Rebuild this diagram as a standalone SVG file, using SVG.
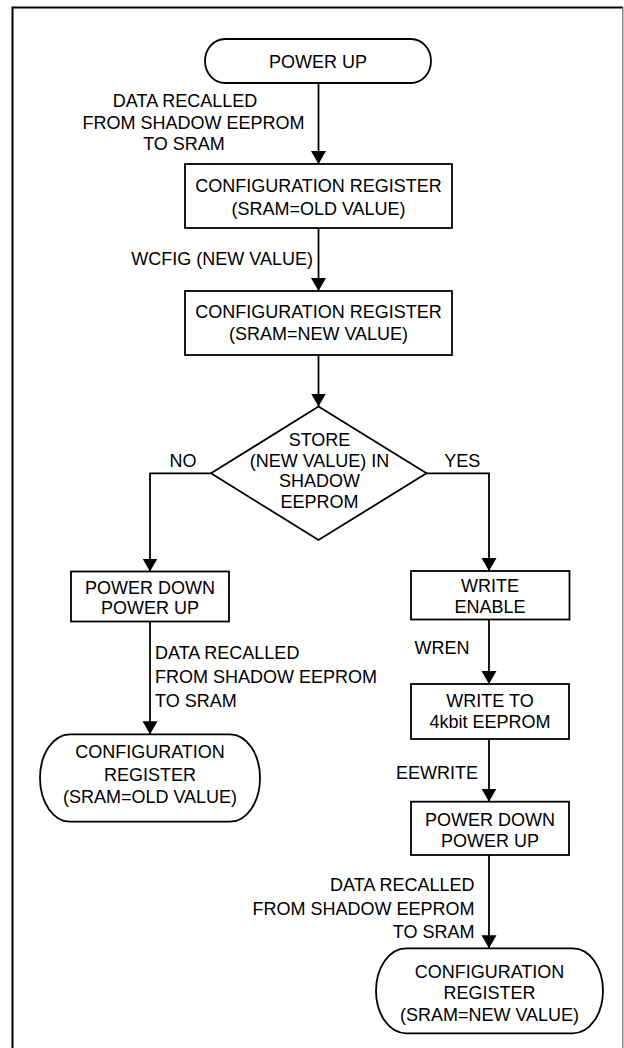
<svg xmlns="http://www.w3.org/2000/svg" width="624" height="1048" viewBox="0 0 624 1048">
<style>
  .shape{fill:#fff;stroke:#000;stroke-width:1.8}
  .wire{fill:none;stroke:#000;stroke-width:1.8}
  text{font-family:"Liberation Sans",Arial,Helvetica,sans-serif;font-size:18px;fill:#000}
  .c{text-anchor:middle}
  .e{text-anchor:end}
</style>
<defs>
  <marker id="arr" markerUnits="userSpaceOnUse" markerWidth="14" markerHeight="16" refX="13" refY="7.5" orient="auto">
    <path d="M0,0 L13,7.5 L0,15 Z" fill="#000"/>
  </marker>
</defs>
<rect width="624" height="1048" fill="#fff"/>
<g id="frame">
  <path d="M12.5,1050 V7.5 H623" fill="none" stroke="#000" stroke-width="2"/>
  <line x1="622.8" y1="7" x2="622.8" y2="1048" stroke="#666" stroke-width="1.2"/>
</g>
<g id="connectors">
  <line class="wire" x1="318.5" y1="83" x2="318.5" y2="164" marker-end="url(#arr)"/>
  <line class="wire" x1="318.5" y1="228" x2="318.5" y2="291" marker-end="url(#arr)"/>
  <line class="wire" x1="318.5" y1="355" x2="318.5" y2="406.5" marker-end="url(#arr)"/>
  <path class="wire" d="M211,473.3 H150 V571.5" marker-end="url(#arr)"/>
  <path class="wire" d="M426.5,473.3 H489 V571" marker-end="url(#arr)"/>
  <line class="wire" x1="150" y1="621.5" x2="150" y2="734.3" marker-end="url(#arr)"/>
  <line class="wire" x1="489" y1="619.5" x2="489" y2="684" marker-end="url(#arr)"/>
  <line class="wire" x1="489" y1="739" x2="489" y2="801.7" marker-end="url(#arr)"/>
  <line class="wire" x1="489" y1="855" x2="489" y2="948.3" marker-end="url(#arr)"/>
  <text x="185" y="107" class="c">DATA RECALLED</text>
  <text x="193.5" y="129" class="c">FROM SHADOW EEPROM</text>
  <text x="184" y="150" class="c">TO SRAM</text>
  <text x="313" y="265" class="e">WCFIG (NEW VALUE)</text>
  <text x="183" y="466.7" class="c">NO</text>
  <text x="462.3" y="467.3" class="c">YES</text>
  <text x="155" y="659">DATA RECALLED</text>
  <text x="155" y="683">FROM SHADOW EEPROM</text>
  <text x="155" y="707">TO SRAM</text>
  <text x="442" y="654" class="c">WREN</text>
  <text x="437" y="779.3" class="c">EEWRITE</text>
  <text x="474.5" y="891" class="e">DATA RECALLED</text>
  <text x="474.5" y="915" class="e">FROM SHADOW EEPROM</text>
  <text x="474.5" y="938.3" class="e">TO SRAM</text>
</g>
<g id="power-up">
  <rect class="shape" x="205" y="39" width="226" height="44" rx="20" ry="22"/>
  <text x="318" y="68" class="c">POWER UP</text>
</g>
<g id="config-old">
  <rect class="shape" x="185" y="164" width="267" height="64"/>
  <text x="318.5" y="192" class="c">CONFIGURATION REGISTER</text>
  <text x="318.5" y="215" class="c">(SRAM=OLD VALUE)</text>
</g>
<g id="config-new">
  <rect class="shape" x="185" y="291" width="267" height="64"/>
  <text x="318.5" y="318.3" class="c">CONFIGURATION REGISTER</text>
  <text x="318.5" y="339.5" class="c">(SRAM=NEW VALUE)</text>
</g>
<g id="decision">
  <polygon class="shape" points="318.5,406.5 426.5,473.3 318.5,540 211,473.3"/>
  <text x="319.5" y="446" class="c">STORE</text>
  <text x="319.5" y="466.7" class="c">(NEW VALUE) IN</text>
  <text x="319.5" y="487.3" class="c">SHADOW</text>
  <text x="319.5" y="507.5" class="c">EEPROM</text>
</g>
<g id="power-cycle-left">
  <rect class="shape" x="71" y="571.5" width="158" height="50"/>
  <text x="150" y="593.5" class="c">POWER DOWN</text>
  <text x="150" y="614" class="c">POWER UP</text>
</g>
<g id="config-old-end">
  <rect class="shape" x="40" y="734.3" width="220" height="87.4" rx="30" ry="43.7"/>
  <text x="150" y="758.3" class="c">CONFIGURATION</text>
  <text x="150" y="780.5" class="c">REGISTER</text>
  <text x="150" y="803" class="c">(SRAM=OLD VALUE)</text>
</g>
<g id="write-enable">
  <rect class="shape" x="411" y="571" width="158.5" height="48.5"/>
  <text x="490" y="591.7" class="c">WRITE</text>
  <text x="490" y="612.7" class="c">ENABLE</text>
</g>
<g id="write-eeprom">
  <rect class="shape" x="411" y="684" width="158" height="55"/>
  <text x="490" y="707.3" class="c">WRITE TO</text>
  <text x="490" y="728.3" class="c">4kbit EEPROM</text>
</g>
<g id="power-cycle-right">
  <rect class="shape" x="411" y="801.7" width="158" height="53.3"/>
  <text x="490" y="826" class="c">POWER DOWN</text>
  <text x="490" y="847" class="c">POWER UP</text>
</g>
<g id="config-new-end">
  <rect class="shape" x="376" y="948.3" width="227" height="85" rx="30" ry="42.5"/>
  <text x="489.5" y="977.5" class="c">CONFIGURATION</text>
  <text x="489.5" y="999" class="c">REGISTER</text>
  <text x="489.5" y="1020.5" class="c">(SRAM=NEW VALUE)</text>
</g>
</svg>
